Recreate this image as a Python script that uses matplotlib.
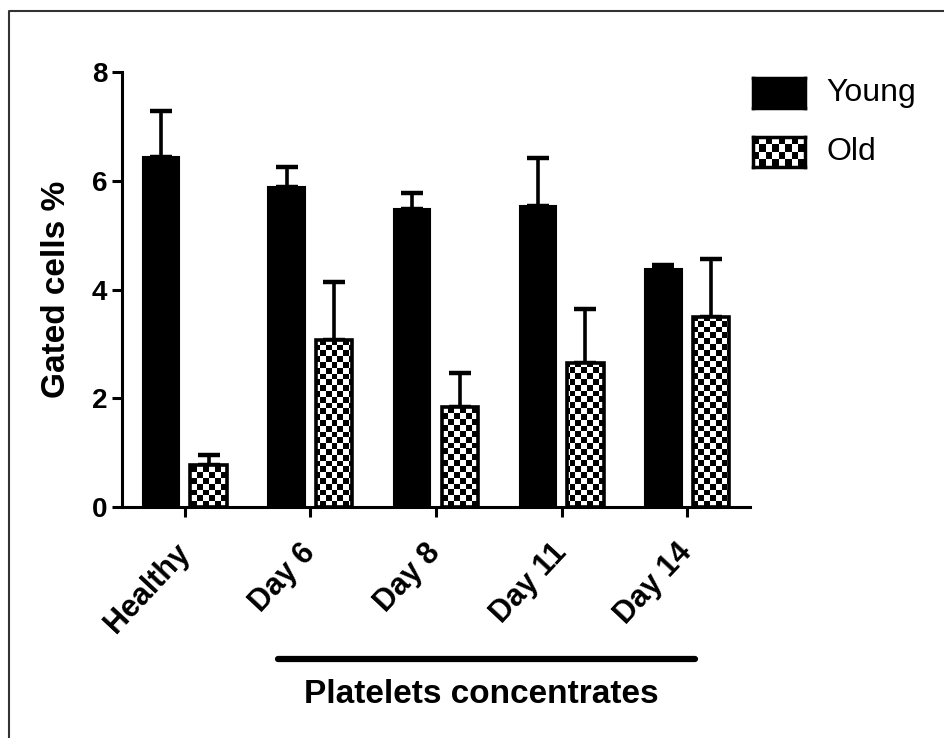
import numpy as np
import matplotlib
matplotlib.use("Agg")
import matplotlib.pyplot as plt
from matplotlib.lines import Line2D

plt.rcParams['font.family'] = ['Liberation Sans', 'DejaVu Sans']

categories = ["Healthy", "Day 6", "Day 8", "Day 11", "Day 14"]
young_mean = [6.43, 5.89, 5.48, 5.53, 4.37]
young_err = [0.86, 0.37, 0.29, 0.89, 0.08]
old_mean = [0.77, 3.07, 1.84, 2.64, 3.50]
old_err = [0.19, 1.07, 0.63, 1.00, 1.06]
series_labels = ["Young", "Old"]
yticks = [0, 2, 4, 6, 8]
ylabel = "Gated cells %"
group_label = "Platelets concentrates"

W, H = 944, 738
fig = plt.figure(figsize=(W / 100, H / 100), dpi=100)
ax = fig.add_axes([122 / W, 1 - 507 / H, (750 - 122) / W, (507 - 72) / H])

x = np.arange(len(categories))
bw = 0.29
off = 0.19

# Young bars
ax.bar(x - off, young_mean, bw, color='black', edgecolor='black', linewidth=1.5, zorder=3)
ax.errorbar(x - off, young_mean, yerr=[np.zeros(len(x)), young_err], fmt='none',
            ecolor='black', elinewidth=2.6, capsize=7.8, capthick=3.2, zorder=2)

# Old bars with checkerboard fill
ax.set_xlim(-0.5, len(categories) - 0.5)
ax.set_ylim(0, 8)
cell = 5.8
ncols = int(round((750 - 122) / cell))
nrows = int(round((507 - 72) / cell))
checker = (np.add.outer(np.arange(nrows), np.arange(ncols)) % 2).astype(float)
old_bars = ax.bar(x + off, old_mean, bw, facecolor='white', edgecolor='none', zorder=3)
for b in old_bars:
    im = ax.imshow(checker, cmap='gray', vmin=0, vmax=1, extent=(-0.5, len(categories) - 0.5, 0, 8),
                   aspect='auto', interpolation='nearest', zorder=3.5, origin='lower')
    im.set_clip_path(b)
ax.bar(x + off, old_mean, bw, facecolor='none', edgecolor='black', linewidth=2.6, zorder=4)
ax.errorbar(x + off, old_mean, yerr=[np.zeros(len(x)), old_err], fmt='none',
            ecolor='black', elinewidth=2.6, capsize=7.8, capthick=3.2, zorder=2)

ax.set_xlim(-0.5, len(categories) - 0.5)
ax.set_ylim(0, 8)

for s in ['top', 'right']:
    ax.spines[s].set_visible(False)
for s in ['left', 'bottom']:
    ax.spines[s].set_linewidth(2.2)

ax.set_yticks(yticks)
ax.set_yticklabels([str(t) for t in yticks], fontsize=20, fontweight='bold')
ax.set_xticks(x)
ax.set_xticklabels(categories, fontsize=22, fontweight='bold', rotation=47,
                   ha='right', va='center', rotation_mode='anchor')
ax.tick_params(axis='both', direction='out', length=7.5, width=2.2, colors='black')
ax.tick_params(axis='y', pad=3)
ax.tick_params(axis='x', pad=22)
ax.set_ylabel(ylabel, fontsize=24, fontweight='bold', labelpad=14)

# group bar and label
fig.add_artist(Line2D([278 / W, 695 / W], [1 - 659 / H, 1 - 659 / H], color='black',
                      linewidth=4.5, solid_capstyle='round'))
fig.text(481 / W, 1 - 703 / H, group_label, fontsize=24, fontweight='bold',
         ha='center', va='baseline')

# legend (manual)
kx0, kx1 = 753, 805
keys = [(78, 108), (137, 167)]
for i, (ky0, ky1) in enumerate(keys):
    kax = fig.add_axes([kx0 / W, 1 - ky1 / H, (kx1 - kx0) / W, (ky1 - ky0) / H])
    if i == 0:
        kax.set_facecolor('black')
    else:
        kax.imshow((np.add.outer(np.arange(4), np.arange(8)) % 2).astype(float), cmap='gray',
                   vmin=0, vmax=1, aspect='auto', interpolation='nearest')
    kax.set_xticks([])
    kax.set_yticks([])
    for s in kax.spines.values():
        s.set_linewidth(2.5)
        s.set_color('black')
    fig.text(826 / W, 1 - (ky0 + ky1) / 2 / H, series_labels[i], fontsize=23,
             ha='left', va='center')

# frame around figure (top and left)
fig.add_artist(Line2D([9 / W, 9 / W, 1.0], [0.0, 1 - 11 / H, 1 - 11 / H], color='#333333',
                      linewidth=1.5))

fig.savefig("out.png", dpi=100)
